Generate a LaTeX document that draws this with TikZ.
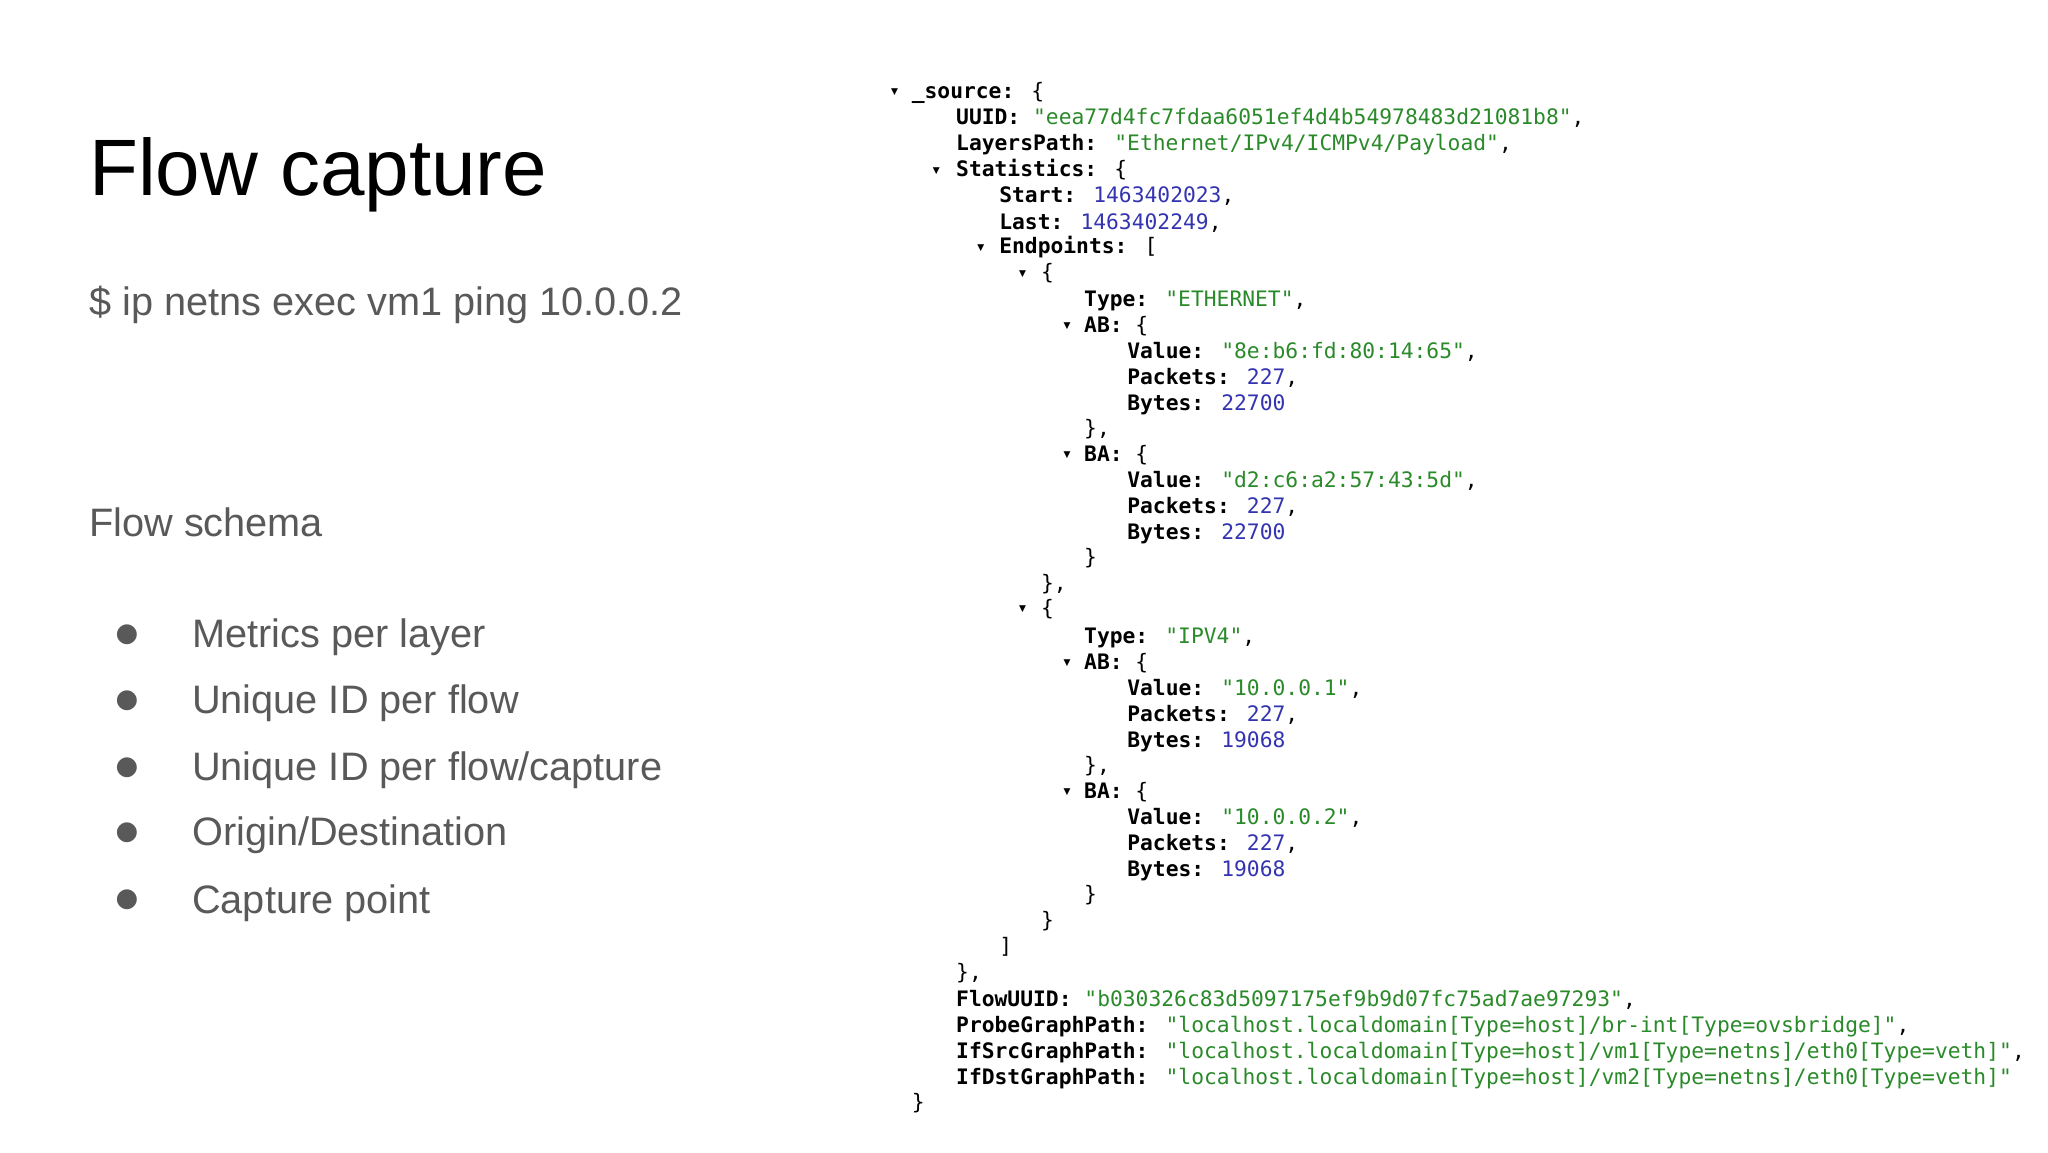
\documentclass[tikz,border=0pt]{standalone}
\usepackage{fontspec}
\setmainfont{Liberation Sans}
\newfontfamily\jmono{DejaVu Sans Mono}
\newfontfamily\djv{DejaVu Sans}
\definecolor{jgreen}{HTML}{2A8A2A}
\definecolor{jblue}{HTML}{3434B0}
\definecolor{sgray}{HTML}{595959}
\newcommand{\jk}[1]{\textbf{#1}}
\newcommand{\js}[1]{\textcolor{jgreen}{#1}}
\newcommand{\jn}[1]{\textcolor{jblue}{#1}}
\newcommand{\jl}[4]{\node[jt] (#1) at ({#2*1.306},{1152-#3*1.306-7}) {#4};}
\newcommand{\jtri}[3]{\node[jtr] (#1) at ({#2*1.306},{1152-#3*1.306-1}) {▼};}
\tikzset{
  jt/.style={anchor=base west, inner sep=0pt, font=\jmono\fontsize{21.3}{26}\selectfont},
  jtr/.style={anchor=center, inner sep=0pt, font=\djv\fontsize{9}{10}\selectfont},
  title/.style={anchor=base west, inner sep=0pt, font=\fontsize{80}{90}\selectfont},
  sub/.style={anchor=base west, inner sep=0pt, text=sgray, font=\fontsize{39.7}{44}\selectfont},
  bul/.style={anchor=center, inner sep=0pt, text=sgray, font=\djv\fontsize{26}{28}\selectfont}
}
\begin{document}
\begin{tikzpicture}[x=1pt,y=1pt]
\useasboundingbox (0,0) rectangle (2048,1152);
\node[title] (t) at (89,956) {Flow capture};
\node[sub] (cmd) at (89,836) {\$ ip netns exec vm1 ping 10.0.0.2};
\node[sub] (fs) at (89,615) {Flow schema};
\foreach \y/\t [count=\i] in {504/Metrics per layer,438/Unique ID per flow,371/Unique ID per flow\slash capture,306/Origin\slash Destination,239/Capture point}{
  \node[bul] (b\i) at (127,\y+13) {●};
  \node[sub] (i\i) at (192,\y) {\t};
}
\jtri{r1}{685}{70}
\jl{l1}{698}{70}{\jk{\_source:} \{}
\jl{l2}{732}{90}{\jk{UUID:} \js{"eea77d4fc7fdaa6051ef4d4b54978483d21081b8"},}
\jl{l3}{732}{110}{\jk{LayersPath:} \js{"Ethernet/IPv4/ICMPv4/Payload"},}
\jtri{r4}{717}{130}
\jl{l4}{732}{130}{\jk{Statistics:} \{}
\jl{l5}{765}{150}{\jk{Start:} \jn{1463402023},}
\jl{l6}{765}{170}{\jk{Last:} \jn{1463402249},}
\jtri{r7}{751}{189}
\jl{l7}{765}{189}{\jk{Endpoints:} [}
\jtri{r8}{783}{209}
\jl{l8}{797}{209}{\{}
\jl{l9}{830}{229}{\jk{Type:} \js{"ETHERNET"},}
\jtri{r10}{817}{249}
\jl{l10}{830}{249}{\jk{AB:} \{}
\jl{l11}{863}{269}{\jk{Value:} \js{"8e:b6:fd:80:14:65"},}
\jl{l12}{863}{289}{\jk{Packets:} \jn{227},}
\jl{l13}{863}{309}{\jk{Bytes:} \jn{22700}}
\jl{l14}{830}{328}{\},}
\jtri{r15}{817}{348}
\jl{l15}{830}{348}{\jk{BA:} \{}
\jl{l16}{863}{368}{\jk{Value:} \js{"d2:c6:a2:57:43:5d"},}
\jl{l17}{863}{388}{\jk{Packets:} \jn{227},}
\jl{l18}{863}{408}{\jk{Bytes:} \jn{22700}}
\jl{l19}{830}{427}{\}}
\jl{l20}{797}{447}{\},}
\jtri{r21}{783}{466}
\jl{l21}{797}{466}{\{}
\jl{l22}{830}{487}{\jk{Type:} \js{"IPV4"},}
\jtri{r23}{817}{507}
\jl{l23}{830}{507}{\jk{AB:} \{}
\jl{l24}{863}{527}{\jk{Value:} \js{"10.0.0.1"},}
\jl{l25}{863}{547}{\jk{Packets:} \jn{227},}
\jl{l26}{863}{567}{\jk{Bytes:} \jn{19068}}
\jl{l27}{830}{586}{\},}
\jtri{r28}{817}{606}
\jl{l28}{830}{606}{\jk{BA:} \{}
\jl{l29}{863}{626}{\jk{Value:} \js{"10.0.0.2"},}
\jl{l30}{863}{646}{\jk{Packets:} \jn{227},}
\jl{l31}{863}{666}{\jk{Bytes:} \jn{19068}}
\jl{l32}{830}{685}{\}}
\jl{l33}{797}{705}{\}}
\jl{l34}{765}{725}{]}
\jl{l35}{732}{745}{\},}
\jl{l36}{732}{765}{\jk{FlowUUID:} \js{"b030326c83d5097175ef9b9d07fc75ad7ae97293"},}
\jl{l37}{732}{785}{\jk{ProbeGraphPath:} \js{"localhost.localdomain[Type=host]/br-int[Type=ovsbridge]"},}
\jl{l38}{732}{805}{\jk{IfSrcGraphPath:} \js{"localhost.localdomain[Type=host]/vm1[Type=netns]/eth0[Type=veth]"},}
\jl{l39}{732}{825}{\jk{IfDstGraphPath:} \js{"localhost.localdomain[Type=host]/vm2[Type=netns]/eth0[Type=veth]"}}
\jl{l40}{698}{844}{\}}
\end{tikzpicture}
\end{document}
